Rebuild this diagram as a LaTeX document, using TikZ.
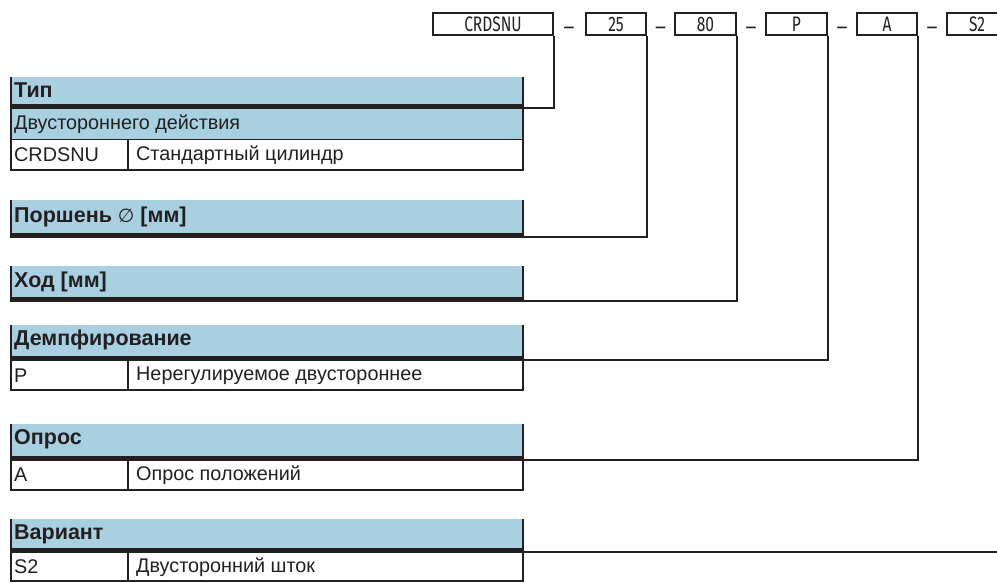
\documentclass[tikz,border=0pt]{standalone}
\usepackage{fontspec}
\setmainfont{Liberation Sans}
\newfontfamily\codefont[FakeStretch=0.74]{Fira Sans}
\newfontfamily\dashfont{Fira Sans}
\newfontfamily\symfont{DejaVu Sans}
\definecolor{hblue}{RGB}{168,208,224}
\definecolor{ink}{RGB}{35,31,32}
\begin{document}
\begin{tikzpicture}[x=1pt,y=-1pt,
  codebox/.style={draw=ink, line width=1.5pt, minimum height=22pt, inner sep=0pt, text=ink,
    font=\codefont\fontsize{21}{21}\selectfont},
  dashn/.style={inner sep=0pt, anchor=base, text=ink, font=\dashfont\fontsize{21}{21}\selectfont},
  conn/.style={draw=ink, line width=2pt},
  hband/.style={fill=hblue, draw=none, anchor=north west, minimum width=514pt, inner sep=0pt},
  barnode/.style={fill=ink, draw=none, anchor=north west, minimum width=514pt, minimum height=4.5pt, inner sep=0pt},
  frame/.style={draw=ink, line width=2pt},
  divline/.style={draw=ink, line width=1.2pt},
  hdrtxt/.style={anchor=west, inner sep=0pt, text=ink, font=\bfseries\fontsize{21.5}{22}\selectfont},
  celltxt/.style={anchor=west, inner sep=0pt, text=ink, font=\fontsize{19.8}{20}\selectfont}]
\useasboundingbox (0,0) rectangle (997,582);

% ---- top code boxes
\node[codebox, minimum width=120pt] (bCRD) at (493,24) {CRDSNU};
\node[dashn] (d1) at (569,34) {–};
\node[codebox, minimum width=60pt] (b25) at (616,24) {25};
\node[dashn] (d2) at (660.5,34) {–};
\node[codebox, minimum width=61pt] (b80) at (705.5,24) {80};
\node[dashn] (d3) at (751,34) {–};
\node[codebox, minimum width=61pt] (bP) at (796.5,24) {P};
\node[dashn] (d4) at (842,34) {–};
\node[codebox, minimum width=60pt] (bA) at (887,24) {A};
\node[dashn] (d5) at (932,34) {–};
\node[codebox, minimum width=60pt] (bS) at (977,24) {S2};

% ---- Тип
\node[hband, minimum height=62pt] (hTyp) at (10,77) {};
\node[barnode] (barTyp) at (10,104) {};
\draw[ink, line width=1pt] (10,139.5) -- (524,139.5);
\draw[frame] (11,77) -- (11,170) -- (523,170) -- (523,77);
\draw[divline] (128,140) -- (128,170);
\node[hdrtxt] (tTyp) at (14,90) {Тип};
\node[celltxt] (tTyp1) at (14,124) {Двустороннего действия};
\node[celltxt] (tTyp2a) at (14,155) {CRDSNU};
\node[celltxt] (tTyp2b) at (136,155) {Стандартный цилиндр};

% ---- Поршень
\node[hband, minimum height=33pt] (hPor) at (10,200) {};
\node[barnode] (barPor) at (10,233) {};
\draw[frame] (11,200) -- (11,237.5);
\draw[frame] (523,200) -- (523,237.5);
\node[hdrtxt] (tPor) at (14,217) {Поршень {\symfont\mdseries\fontsize{19}{20}\selectfont ∅} [мм]};

% ---- Ход
\node[hband, minimum height=31pt] (hHod) at (10,266) {};
\node[barnode] (barHod) at (10,297) {};
\draw[frame] (11,266) -- (11,301.5);
\draw[frame] (523,266) -- (523,301.5);
\node[hdrtxt] (tHod) at (14,282) {Ход [мм]};

% ---- Демпфирование
\node[hband, minimum height=31pt] (hDem) at (10,325) {};
\node[barnode] (barDem) at (10,356) {};
\draw[frame] (11,325) -- (11,390) -- (523,390) -- (523,325);
\draw[divline] (128,360) -- (128,390);
\node[hdrtxt] (tDem) at (14,340) {Демпфирование};
\node[celltxt] (tDem1a) at (14,376) {P};
\node[celltxt] (tDem1b) at (136,376) {Нерегулируемое двустороннее};

% ---- Опрос
\node[hband, minimum height=32pt] (hOpr) at (10,424) {};
\node[barnode] (barOpr) at (10,456) {};
\draw[frame] (11,424) -- (11,490) -- (523,490) -- (523,424);
\draw[divline] (128,460) -- (128,490);
\node[hdrtxt] (tOpr) at (14,439) {Опрос};
\node[celltxt] (tOpr1a) at (14,475) {A};
\node[celltxt] (tOpr1b) at (136,475) {Опрос положений};

% ---- Вариант
\node[hband, minimum height=29pt] (hVar) at (10,519) {};
\node[barnode] (barVar) at (10,548) {};
\draw[frame] (11,519) -- (11,581) -- (523,581) -- (523,519);
\draw[divline] (128,552) -- (128,581);
\node[hdrtxt] (tVar) at (14,534) {Вариант};
\node[celltxt] (tVar1a) at (14,567) {S2};
\node[celltxt] (tVar1b) at (136,567) {Двусторонний шток};

% ---- connectors
\draw[conn] (bCRD.south east) |- ([yshift=1pt]barTyp.south east);
\draw[conn] (b25.south east) |- ([yshift=1pt]barPor.south east);
\draw[conn] (b80.south east) |- ([yshift=1pt]barHod.south east);
\draw[conn] (bP.south east) |- ([yshift=1pt]barDem.south east);
\draw[conn] (bA.south east) |- ([yshift=1pt]barOpr.south east);
\draw[conn] (bS.south east) |- ([yshift=1pt]barVar.south east);
\end{tikzpicture}
\end{document}
